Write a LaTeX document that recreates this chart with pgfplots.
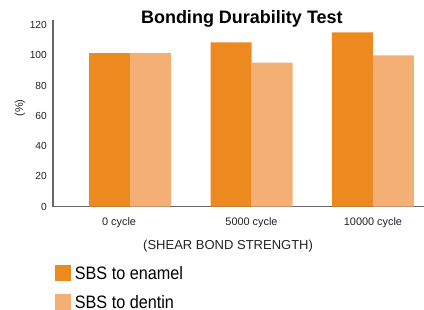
\documentclass[border=0pt]{standalone}
\usepackage{pgfplots}
\pgfplotsset{compat=1.18}
\usepackage{fontspec}
\setmainfont{Liberation Sans}
\newfontfamily\condfont[FakeStretch=0.9]{Liberation Sans}
\definecolor{enamel}{HTML}{EC891F}
\definecolor{dentin}{HTML}{F4B074}
\definecolor{axisgray}{HTML}{666666}
\definecolor{txt}{HTML}{222222}
\begin{document}
\begin{tikzpicture}
\useasboundingbox (0,0) rectangle (424bp,310bp);
\begin{axis}[
  at={(53bp,103.5bp)}, anchor=south west,
  scale only axis, width=371bp, height=186.5bp,
  xmin=-0.634, xmax=2.42, ymin=0, ymax=123.5,
  axis lines=left,
  axis line style={-, draw=axisgray, line width=1.5bp},
  major tick length=0pt,
  ybar=0pt, bar width=41bp,
  xtick={-0.09,1,2},
  xticklabels={0 cycle, 5000 cycle, 10000 cycle},
  ytick={0,20,...,120},
  /pgf/number format/assume math mode=true,
  tick label style={text=txt},
  yticklabel style={font=\fontsize{10.2bp}{12bp}\selectfont, anchor=east, inner sep=0pt, xshift=-6bp},
  xticklabel style={font=\fontsize{10.9bp}{12bp}\selectfont, anchor=north, inner sep=0pt, yshift=-11bp},
  title={\textbf{Bonding Durability Test}},
  title style={font=\fontsize{18bp}{20bp}\selectfont, text=black, at={(axis description cs:0.509,1)}, anchor=center, yshift=-5bp},
  xlabel={(SHEAR BOND STRENGTH)},
  xlabel style={font=\fontsize{13bp}{15bp}\selectfont, text=txt, at={(axis description cs:0.472,-0.214)}, anchor=center},
  ylabel={(\%)},
  ylabel style={font=\fontsize{11bp}{13bp}\selectfont, text=txt, at={(axis description cs:-0.089,0.528)}, anchor=center, rotate=0},
  legend cell align=left,
  legend image code/.code={\fill[#1] (0bp,-8bp) rectangle (16bp,8bp);},
  legend style={at={(axis description cs:0.005,-0.316)}, anchor=north west, draw=none, fill=none,
    inner sep=0pt, outer sep=0pt, row sep=13bp, column sep=4bp,
    nodes={inner sep=0pt, text=black, font=\condfont\fontsize{18bp}{20bp}\selectfont}},
]
\addplot[fill=enamel, draw=none] coordinates {(0,101.5) (1,108.7) (2,115.3)};
\addlegendentry{SBS to enamel}
\addplot[fill=dentin, draw=none] coordinates {(0,101.5) (1,95.3) (2,100)};
\addlegendentry{SBS to dentin}
\end{axis}
\end{tikzpicture}
\end{document}
